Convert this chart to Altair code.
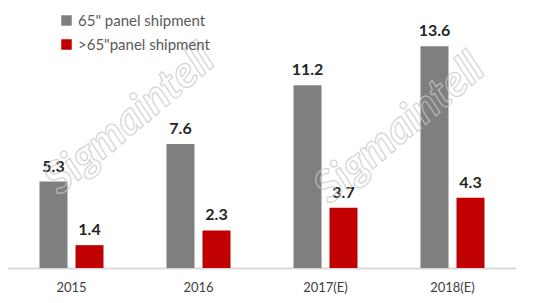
import altair as alt
import pandas as pd

years = ["2015", "2016", "2017(E)", "2018(E)"]
series_names = ['65" panel shipment', '>65"panel shipment']
s65 = [5.3, 7.6, 11.2, 13.6]
s_gt65 = [1.4, 2.3, 3.7, 4.3]
colors = ["#7f7f7f", "#c00000"]

rows = []
for i, y in enumerate(years):
    rows.append({"year": y, "series": series_names[0], "value": s65[i], "order": 0})
    rows.append({"year": y, "series": series_names[1], "value": s_gt65[i], "order": 1})
df = pd.DataFrame(rows)

FONT = "Lato"

x = alt.X("year:N", sort=years, title=None,
          scale=alt.Scale(paddingInner=0, paddingOuter=0),
          axis=alt.Axis(labelAngle=0, labelFontSize=13, labelColor="#404040", labelFont=FONT,
                        ticks=False, domainColor="#d9d9d9", domainWidth=2, labelPadding=13))
xo = alt.XOffset("series:N", sort=series_names,
                 scale=alt.Scale(paddingInner=0.222, paddingOuter=0.875))
y = alt.Y("value:Q", scale=alt.Scale(domain=[0, 16]), axis=None)

bars = alt.Chart(df).mark_bar().encode(
    x=x, xOffset=xo, y=y,
    color=alt.Color("series:N", sort=series_names,
                    scale=alt.Scale(domain=series_names, range=colors),
                    legend=alt.Legend(title=None, orient="none", legendX=51, legendY=6,
                                      symbolType="square", symbolSize=110, symbolStrokeWidth=0,
                                      labelFontSize=15, labelColor="#595959", labelFont=FONT,
                                      rowPadding=8, labelOffset=4)),
)

labels = alt.Chart(df).mark_text(baseline="bottom", dy=-7, fontSize=16, fontWeight="bold",
                                 color="#262626", font=FONT).encode(
    x=x, xOffset=xo, y=y, text=alt.Text("value:Q", format=".1f"))

wm_df = pd.DataFrame({"t": ["Sigmaintell", "Sigmaintell"], "px": [122, 392], "py": [113, 122]})
watermark = alt.Chart(wm_df).mark_text(
    angle=320, fontSize=44, fontWeight="bold", fontStyle="italic", font=FONT,
    fill="white", fillOpacity=0.0, stroke="#c8c8c8", strokeWidth=1.2, strokeOpacity=0.8).encode(
    x=alt.X("px:Q", scale=None), y=alt.Y("py:Q", scale=None), text="t:N")

chart = alt.layer(bars, labels, watermark).properties(
    width=508, height=261,
    autosize=alt.AutoSizeParams(type="none"),
    padding={"left": 8, "top": 7, "right": 31, "bottom": 35},
).configure(background="white").configure_view(stroke=None, strokeWidth=0)

chart.save("out.html", embed_options={"renderer": "svg", "actions": False})
